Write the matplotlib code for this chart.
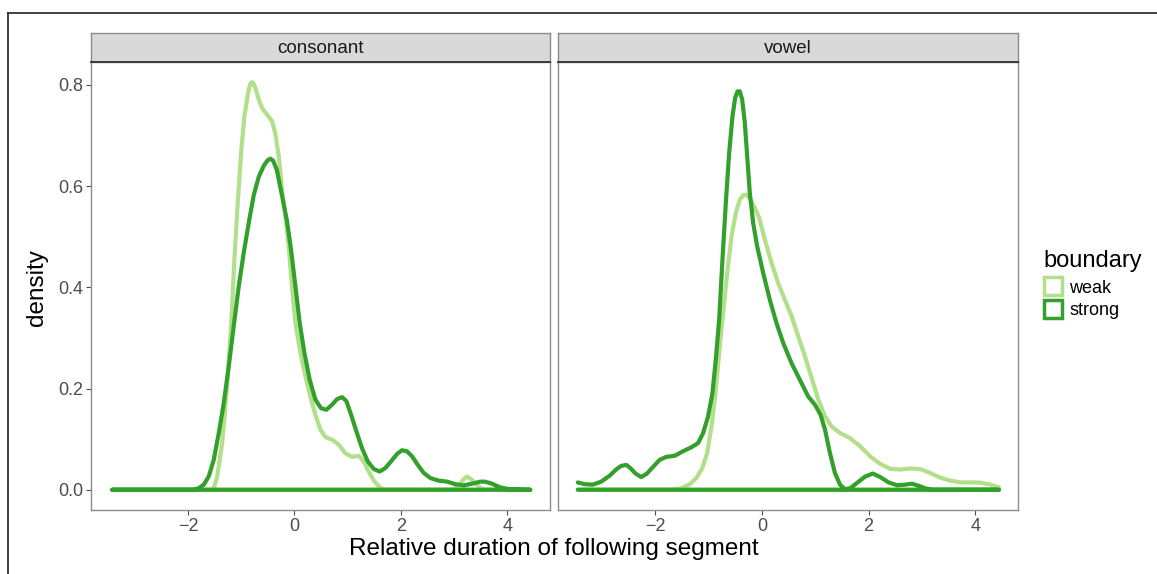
import numpy as np
import matplotlib.pyplot as plt
from matplotlib.patches import Rectangle
from matplotlib.lines import Line2D

plt.rcParams['font.family'] = ['Liberation Sans', 'DejaVu Sans']

# density curves (x = relative duration, y = density)
cons_weak_x = [-3.42, -1.64, -1.547, -1.515, -1.45, -1.357, -1.264, -1.189, -1.127, -1.064,
               -1.002, -0.939, -0.889, -0.858, -0.826, -0.795, -0.764, -0.714, -0.670, -0.607,
               -0.513, -0.419, -0.357, -0.294, -0.232, -0.169, -0.107, -0.044, 0.019, 0.113,
               0.207, 0.300, 0.394, 0.488, 0.582, 0.707, 0.832, 0.958, 1.083, 1.208,
               1.302, 1.396, 1.490, 1.584, 1.678, 2.99, 3.08, 3.18, 3.24, 3.32,
               3.40, 3.49, 3.57, 4.43]
cons_weak_y = [0.0, 0.0, 0.0, 0.003, 0.026, 0.092, 0.204, 0.323, 0.455, 0.567,
               0.665, 0.738, 0.771, 0.790, 0.802, 0.805, 0.802, 0.787, 0.771, 0.754,
               0.741, 0.728, 0.703, 0.659, 0.593, 0.540, 0.481, 0.400, 0.329, 0.270,
               0.224, 0.184, 0.148, 0.119, 0.104, 0.099, 0.089, 0.072, 0.065, 0.067,
               0.056, 0.036, 0.018, 0.007, 0.0, 0.0, 0.008, 0.021, 0.026, 0.021,
               0.012, 0.004, 0.0, 0.0]

cons_strong_x = [-3.42, -1.89, -1.797, -1.703, -1.61, -1.515, -1.42, -1.327, -1.233, -1.14,
                 -1.045, -0.952, -0.858, -0.764, -0.67, -0.576, -0.501, -0.45, -0.40, -0.33,
                 -0.25, -0.138, -0.063, 0.019, 0.10, 0.188, 0.288, 0.394, 0.50, 0.60,
                 0.707, 0.80, 0.895, 0.977, 1.065, 1.165, 1.27, 1.377, 1.49, 1.60,
                 1.71, 1.815, 1.93, 2.02, 2.115, 2.21, 2.317, 2.43, 2.555, 2.71,
                 2.87, 3.02, 3.18, 3.34, 3.49, 3.58, 3.71, 3.855, 4.03, 4.43]
cons_strong_y = [0.0, 0.0, 0.003, 0.010, 0.026, 0.059, 0.112, 0.171, 0.244, 0.323,
                 0.402, 0.468, 0.527, 0.582, 0.618, 0.640, 0.651, 0.654, 0.650, 0.632,
                 0.590, 0.530, 0.474, 0.402, 0.329, 0.270, 0.217, 0.178, 0.161, 0.158,
                 0.168, 0.179, 0.183, 0.175, 0.148, 0.115, 0.082, 0.056, 0.041, 0.036,
                 0.043, 0.056, 0.071, 0.078, 0.076, 0.066, 0.049, 0.033, 0.023, 0.018,
                 0.016, 0.011, 0.0086, 0.012, 0.016, 0.016, 0.012, 0.005, 0.001, 0.0]

vow_weak_x = [-3.44, -1.666, -1.51, -1.35, -1.227, -1.115, -1.025, -0.944, -0.869, -0.80,
              -0.726, -0.65, -0.569, -0.488, -0.413, -0.35, -0.288, -0.213, -0.131, -0.05,
              0.056, 0.182, 0.307, 0.432, 0.557, 0.682, 0.807, 0.932, 1.058, 1.183,
              1.308, 1.465, 1.653, 1.84, 2.03, 2.22, 2.40, 2.59, 2.78, 2.97,
              3.155, 3.34, 3.53, 3.72, 3.90, 4.09, 4.25, 4.44]
vow_weak_y = [0.0, 0.0, 0.003, 0.011, 0.023, 0.043, 0.072, 0.125, 0.191, 0.270,
              0.349, 0.428, 0.500, 0.547, 0.573, 0.582, 0.583, 0.573, 0.557, 0.537,
              0.494, 0.448, 0.408, 0.375, 0.343, 0.303, 0.264, 0.221, 0.178, 0.145,
              0.125, 0.112, 0.102, 0.086, 0.066, 0.051, 0.0415, 0.040, 0.042, 0.041,
              0.033, 0.024, 0.018, 0.0145, 0.0145, 0.014, 0.011, 0.005]

vow_strong_x = [-3.45, -3.32, -3.17, -3.01, -2.85, -2.73, -2.64, -2.54, -2.466, -2.366,
                -2.26, -2.153, -2.04, -1.916, -1.79, -1.634, -1.478, -1.32, -1.196, -1.10,
                -1.007, -0.926, -0.863, -0.80, -0.738, -0.675, -0.613, -0.55, -0.50, -0.456,
                -0.413, -0.369, -0.319, -0.275, -0.225, -0.163, -0.088, 0.025, 0.150, 0.275,
                0.40, 0.557, 0.713, 0.87, 0.995, 1.10, 1.183, 1.277, 1.37, 1.465,
                1.56, 1.653, 1.778, 1.935, 2.08, 2.22, 2.374, 2.53, 2.685, 2.81,
                2.935, 3.06, 3.19, 4.44]
vow_strong_y = [0.0145, 0.011, 0.010, 0.016, 0.028, 0.040, 0.047, 0.049, 0.043, 0.032,
                0.025, 0.032, 0.045, 0.059, 0.065, 0.067, 0.076, 0.084, 0.092, 0.112,
                0.145, 0.191, 0.257, 0.336, 0.455, 0.567, 0.665, 0.738, 0.774, 0.787,
                0.787, 0.771, 0.725, 0.659, 0.586, 0.527, 0.481, 0.428, 0.375, 0.329,
                0.290, 0.250, 0.217, 0.184, 0.168, 0.148, 0.119, 0.072, 0.033, 0.010,
                0.001, 0.003, 0.013, 0.026, 0.032, 0.025, 0.0145, 0.009, 0.010, 0.012,
                0.008, 0.003, 0.0, 0.0]

panels = ['consonant', 'vowel']
groups = ['weak', 'strong']
colors = {'weak': '#b2df8a', 'strong': '#33a02c'}
curves = {
    ('consonant', 'weak'): (cons_weak_x, cons_weak_y),
    ('consonant', 'strong'): (cons_strong_x, cons_strong_y),
    ('vowel', 'weak'): (vow_weak_x, vow_weak_y),
    ('vowel', 'strong'): (vow_strong_x, vow_strong_y),
}
xticks = [-2, 0, 2, 4]
yticks = [0.0, 0.2, 0.4, 0.6, 0.8]

W, H = 1157, 574
fig = plt.figure(figsize=(W / 100, H / 100), dpi=100)


def px_box(l, t, r, b):
    return [l / W, 1 - b / H, (r - l) / W, (b - t) / H]


panel_px = [(91, 550), (558, 1018)]
axes = []
for i, name in enumerate(panels):
    l, r = panel_px[i]
    ax = fig.add_axes(px_box(l, 62, r, 510))
    for g in groups:
        xs, ys = curves[(name, g)]
        # closed outline like geom_density: curve plus baseline
        px = list(xs) + [xs[-1], xs[0]]
        py = list(ys) + [0.0, 0.0]
        ax.plot(px, py, color=colors[g], lw=3.0, solid_joinstyle='round',
                solid_capstyle='round')
    ax.set_xlim(-3.82, 4.80)
    ax.set_ylim(-0.04, 0.845)
    ax.set_xticks(xticks)
    ax.set_xticklabels(['\u22122', '0', '2', '4'])
    ax.tick_params(axis='both', length=3.5, width=0.8, color='#4d4d4d',
                   labelsize=13, labelcolor='#4d4d4d', pad=2)
    ax.set_yticks(yticks)
    if i == 0:
        ax.set_yticklabels(['%.1f' % v for v in yticks])
    else:
        ax.tick_params(axis='y', left=False, labelleft=False)
    for s in ax.spines.values():
        s.set_color('#8c8c8c')
        s.set_linewidth(1.0)

    # facet strip
    sax = fig.add_axes(px_box(l, 33, r, 62))
    sax.set_facecolor('#d9d9d9')
    sax.set_xticks([])
    sax.set_yticks([])
    for s in sax.spines.values():
        s.set_color('#8c8c8c')
        s.set_linewidth(1.0)
    sax.spines['bottom'].set_color('#333333')
    sax.spines['bottom'].set_linewidth(1.3)
    sax.text(0.5, 0.45, name, ha='center', va='center', fontsize=13.5,
             color='#1a1a1a', transform=sax.transAxes)
    axes.append(ax)

fig.text(37 / W, 1 - 288 / H, 'density', rotation=90, ha='center', va='center',
         fontsize=17.5, color='black')
fig.text(554 / W, 1 - 555 / H, 'Relative duration of following segment',
         ha='center', va='baseline', fontsize=17.5, color='black')

# legend
fig.text(1043 / W, 1 - 267 / H, 'boundary', ha='left', va='baseline',
         fontsize=17, color='black')
key_tops = [277, 300]
label_base = [293, 315]
for g, kt, lb in zip(groups, key_tops, label_base):
    fig.patches.append(Rectangle((1044 / W, 1 - (kt + 18) / H), 18 / W, 18 / H,
                                 transform=fig.transFigure, facecolor='white',
                                 edgecolor=colors[g], lw=2.5))
    fig.text(1069 / W, 1 - lb / H, g, ha='left', va='baseline', fontsize=13,
             color='black')

# outer frame around the picture
fig.add_artist(Line2D([8 / W, 1.0], [1 - 12.5 / H, 1 - 12.5 / H],
                      transform=fig.transFigure, color='#333333', lw=1.3))
fig.add_artist(Line2D([8 / W, 8 / W], [0.0, 1 - 12.5 / H],
                      transform=fig.transFigure, color='#333333', lw=1.3))

fig.savefig('out.png', dpi=100, facecolor='white')
